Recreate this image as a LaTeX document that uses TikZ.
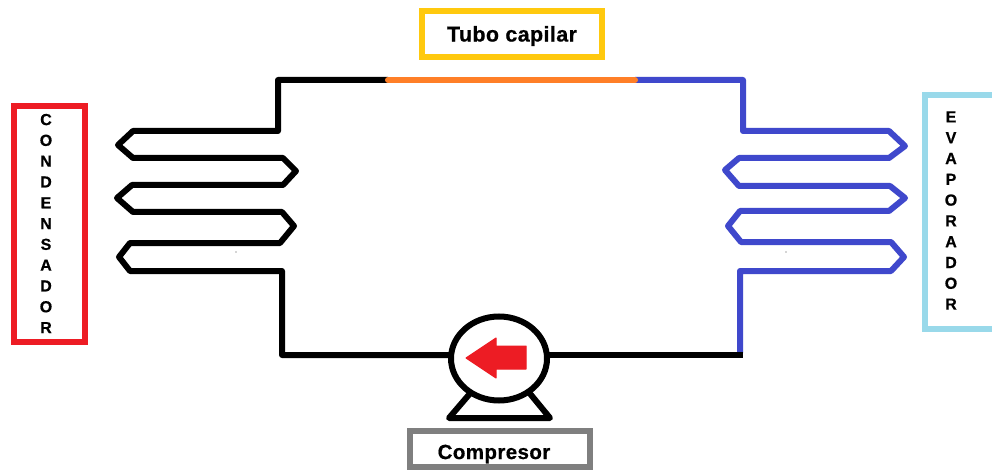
\documentclass[tikz,border=0pt]{standalone}
\usepackage{fontspec}
\usetikzlibrary{shapes.geometric}
\setmainfont{Liberation Sans}[BoldFeatures={FakeBold=0.6,LetterSpace=2}]
\definecolor{cred}{HTML}{ED1C24}
\definecolor{cblue}{HTML}{3F48CC}
\definecolor{corange}{HTML}{FF7F27}
\definecolor{cyellow}{HTML}{FFC90E}
\definecolor{clight}{HTML}{99D9EA}
\definecolor{cgray}{HTML}{7F7F7F}
\tikzset{
  pipe/.style={line width=6pt,line join=round},
  framebox/.style={draw,line width=6pt,rectangle,inner sep=0pt,outer sep=0pt,anchor=north west,fill=white},
  label/.style={font=\fontsize{20.5}{24}\selectfont\bfseries},
  stack/.style={font=\fontsize{16}{20.8}\selectfont\bfseries,align=center,inner sep=0pt},
}
\begin{document}
\begin{tikzpicture}[x=1pt,y=-1pt]
\useasboundingbox (0,0) rectangle (992,470);
\fill[white] (0,0) rectangle (992,470);
% frames
\node[framebox,draw=cyellow,minimum width=180pt,minimum height=46pt] (tubobox) at (422,11) {};
\node[framebox,draw=cred,minimum width=71pt,minimum height=236pt] (condbox) at (14,106) {};
\node[framebox,draw=clight,minimum width=90pt,minimum height=234pt] (evapbox) at (925,95) {};
\node[framebox,draw=cgray,minimum width=180pt,minimum height=36pt] (compbox) at (410,431) {};
% labels
\node[label,font=\fontsize{21.4}{24}\selectfont\bfseries] (tubotext) at (512,36) {Tubo capilar};
\node[label] (comptext) at (494,454) {Compresor};
\node[stack] (condtext) at (46,223.5) {C\\O\\N\\D\\E\\N\\S\\A\\D\\O\\R};
\node[stack] (evaptext) at (951,210.5) {E\\V\\A\\P\\O\\R\\A\\D\\O\\R};
% compressor base, then body
\draw[line width=6pt,line join=round,line cap=round] (473,390) -- (449,418) -- (550,418) -- (527,390);
\node[ellipse,draw=black,line width=6pt,minimum width=96pt,minimum height=84pt,inner sep=0pt,outer sep=0pt,fill=white] (comp) at (499,358.5) {};
\coordinate (capL) at (388,80);
\coordinate (capR) at (635,80);
\coordinate (compL) at (comp.west);
\coordinate (compR) at (comp.east);
% condenser
\draw[pipe] (capL) -- (278,80) -- (278,131) -- (133,131) -- (118,145) -- (133,158)
  -- (283,158) -- (296,171) -- (283,185) -- (132,185) -- (117,198) -- (133,212)
  -- (282,212) -- (294,226) -- (280,243) -- (130,243) -- (119,257) -- (130,271)
  -- (282,271) -- (282,355) -- (compL |- 0,355);
% evaporator
\draw[pipe,cblue] (capR) -- (743,80) -- (743,131) -- (889,131) -- (905,146) -- (889,158)
  -- (739,158) -- (725,170) -- (739,186) -- (890,186) -- (905,198) -- (889,211)
  -- (740,211) -- (728,226) -- (741,242) -- (891,242) -- (904,257) -- (891,271)
  -- (740,271) -- (740,353);
\draw[pipe] (compR |- 0,355) -- (743,355);
% capillary
\draw[pipe,corange,line cap=round] (capL) -- (capR);
% arrow
\fill[cred,draw=cred,line width=1pt,line join=round] (466,358) -- (496,338) -- (496,346) -- (526,346) -- (526,369) -- (496,369) -- (496,378) -- cycle;
% specks
\fill[black!70] (236,252) circle (0.6pt);
\fill[black!70] (786,252) circle (0.6pt);
\end{tikzpicture}
\end{document}
